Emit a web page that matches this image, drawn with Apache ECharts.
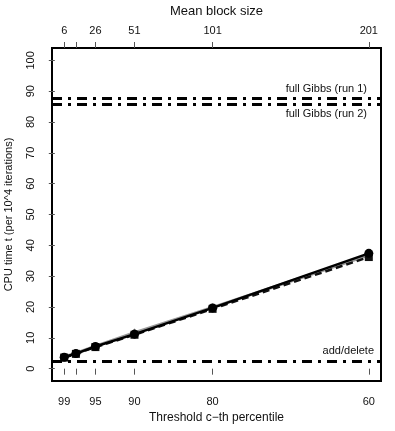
<!DOCTYPE html>
<html>
<head>
<meta charset="utf-8">
<script src="https://cdn.jsdelivr.net/npm/echarts@6/dist/echarts.min.js"></script>
<style>
  html, body { margin: 0; padding: 0; background: #fff; }
  #chart { width: 395px; height: 431px; }
</style>
</head>
<body>
<div id="chart"></div>
<script>
// threshold percentile and matching mean block size (top axis)
var percentiles = [99, 97.5, 95, 90, 80, 60];
var blockSize = [6, 13.5, 26, 51, 101, 201];

// CPU time, three runs of the block sampler
var cpuSolid = [3.7, 4.9, 7.2, 11.2, 19.7, 37.4];
var cpuDashed = [3.6, 4.8, 7.0, 11.0, 19.4, 36.2];
var cpuGray = [3.8, 5.0, 7.3, 11.7, 19.9, 36.8];

// reference levels
var gibbsRun1 = 87.6;
var gibbsRun2 = 85.7;
var addDelete = 2.3;

var yTicks = [0, 10, 20, 30, 40, 50, 60, 70, 80, 90, 100];
var topLabels = [6, 26, 51, 101, 201];
var xTicks = [6, 13.5, 26, 51, 101, 201];

var font = 'Liberation Sans, Arial, sans-serif';

function pairs(ys) {
  return blockSize.map(function (b, i) { return [b, ys[i]]; });
}
function pctOf(b) {
  return percentiles[blockSize.indexOf(b)];
}

var dashDot = [10, 6, 3, 6];
function refLine(val, label, pos, dist) {
  return {
    yAxis: val,
    label: { show: !!label, formatter: label, position: pos, color: '#111', fontSize: 11, fontFamily: font, distance: dist },
    lineStyle: { color: '#000', width: 3, type: dashDot }
  };
}

var chart = echarts.init(document.getElementById('chart'));
chart.setOption({
  animation: false,
  grid: { left: 52, right: 14, top: 48, bottom: 50, outerBoundsMode: 'none', show: true, borderColor: '#000', borderWidth: 2, backgroundColor: 'transparent' },
  xAxis: [{
    type: 'value', min: -1.8, max: 208.8, position: 'bottom',
    name: 'Threshold c\u2212th percentile', nameLocation: 'middle', nameGap: 29,
    nameTextStyle: { fontSize: 12, color: '#111', fontFamily: font },
    axisLine: { show: false },
    splitLine: { show: false },
    axisTick: { show: true, inside: false, length: 6, customValues: xTicks, lineStyle: { color: '#555' } },
    axisLabel: { customValues: topLabels, margin: 15, fontSize: 11, color: '#111', fontFamily: font,
      formatter: function (v) { return String(pctOf(v)); } }
  }, {
    type: 'value', min: -1.8, max: 208.8, position: 'top',
    name: 'Mean block size', nameLocation: 'middle', nameGap: 30,
    nameTextStyle: { fontSize: 13, color: '#111', fontFamily: font },
    axisLine: { show: false },
    splitLine: { show: false },
    axisTick: { show: true, length: 6, customValues: xTicks, lineStyle: { color: '#555' } },
    axisLabel: { customValues: topLabels, margin: 12, fontSize: 11, color: '#111', fontFamily: font }
  }],
  yAxis: {
    type: 'value', min: -4, max: 104,
    name: 'CPU time t (per 10^4 iterations)', nameLocation: 'middle', nameGap: 38, nameRotate: 90,
    nameTextStyle: { fontSize: 11, color: '#111', fontFamily: font },
    axisLine: { show: false },
    splitLine: { show: false },
    axisTick: { show: true, length: 6, customValues: yTicks, lineStyle: { color: '#555' } },
    axisLabel: { customValues: yTicks, rotate: 90, margin: 16, fontSize: 11, color: '#111', fontFamily: font }
  },
  series: [{
    type: 'line', data: pairs(cpuGray), symbol: 'diamond', symbolSize: 8,
    lineStyle: { color: '#999', width: 3 }, itemStyle: { color: '#666' }
  }, {
    type: 'line', data: pairs(cpuDashed), symbol: 'rect', symbolSize: 8,
    lineStyle: { color: '#111', width: 2.5, type: [7, 4] }, itemStyle: { color: '#111' }
  }, {
    type: 'line', data: pairs(cpuSolid), symbol: 'circle', symbolSize: 9,
    lineStyle: { color: '#000', width: 2.5 }, itemStyle: { color: '#000' },
    markLine: {
      silent: true, symbol: 'none',
      data: [
        refLine(gibbsRun1, 'full Gibbs (run 1)', 'insideEndTop', [14, 4]),
        refLine(gibbsRun2, 'full Gibbs (run 2)', 'insideEndBottom', [14, 4]),
        refLine(addDelete, 'add/delete', 'insideEndTop', [7, 5])
      ]
    }
  }]
});
</script>
</body>
</html>
